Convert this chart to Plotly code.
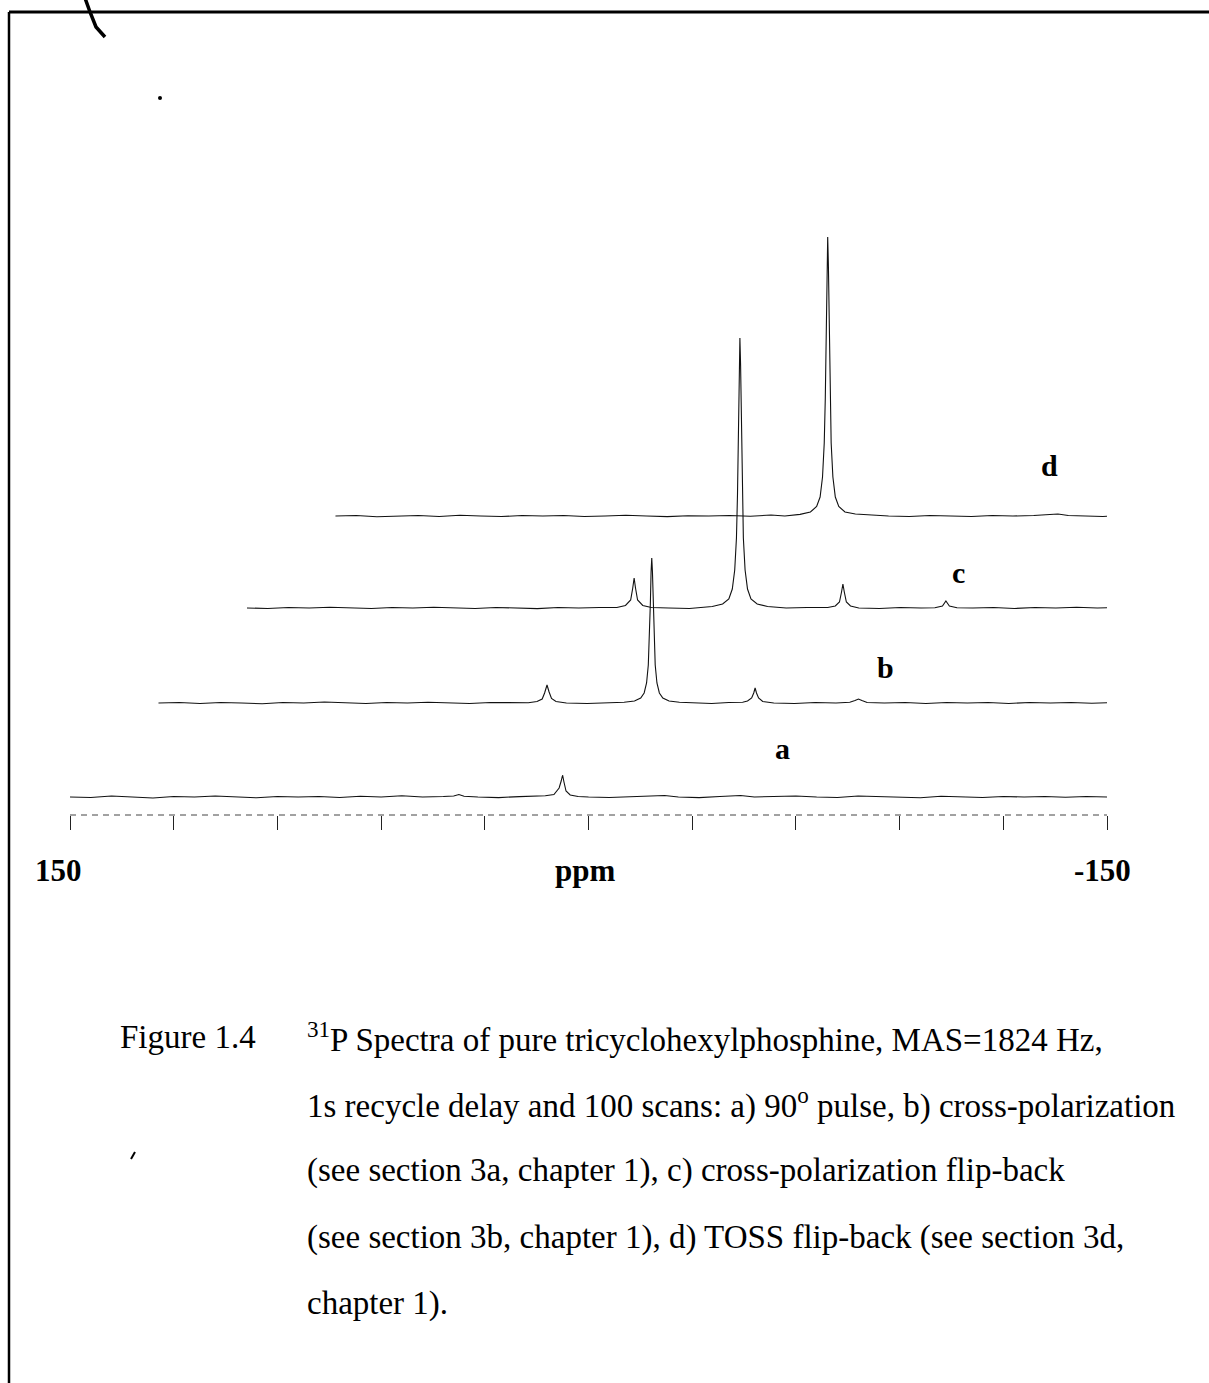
import plotly.graph_objects as go

# ---------------- data ----------------
# each spectrum: (own chemical shift in ppm, intensity above its baseline)
spectrum_a = [(150, 0), (144, -0.5), (138, 1), (132, 0), (126, -1), (120, 0.5), (114, 0), (108, 1),
              (102, 0), (96, -0.8), (90, 0.5), (84, 0), (78, 0.5), (72, -0.5), (66, 0.8), (60, 0),
              (54, 1.2), (48, 0), (42, 0.5), (39, 1), (37.5, 2.5), (36, 0.8), (32, 0), (26, -0.6),
              (20, 0.4), (14, 0.5), (12.5, 1.2), (10, 2.5), (8.5, 9), (7.9, 16), (7.5, 22), (7.1, 15),
              (6.5, 6), (5.3, 2), (3, 0.5), (0, 0), (-6, -0.5), (-12, 0.3), (-18, 0.8), (-22, 1.5),
              (-26, 0), (-32, -0.6), (-38, 0.5), (-44, 1.5), (-48, 0), (-54, 0.5), (-60, 1), (-66, 0),
              (-72, -0.5), (-78, 1), (-84, 0.5), (-90, 0), (-96, -0.8), (-102, 0.8), (-108, 0),
              (-114, -0.5), (-120, 0.5), (-126, 0), (-132, 0.5), (-138, -0.3), (-144, 0.5), (-150, 0)]

spectrum_b = [(150, 0), (144, 0.5), (138, -0.5), (132, 0.5), (126, 0), (120, -0.8), (114, 0.5), (108, 0),
              (102, 1), (96, 0), (90, -0.5), (84, 0.5), (78, 0), (72, 0.8), (66, 0), (60, -0.5), (54, 0.5),
              (48, 0), (43, 0.3), (40.5, 1.5), (39, 4), (38.3, 10), (37.6, 18), (37.0, 11), (36.3, 4.5),
              (35, 1.5), (32, 0), (26, -0.5), (20, 0.3), (15.3, 0.8), (12.3, 2), (10.5, 5), (9.5, 10),
              (8.8, 20), (8.3, 38), (8.0, 61), (7.7, 100), (7.5, 131), (7.3, 145), (7.1, 131), (6.9, 100),
              (6.6, 61), (6.3, 38), (5.8, 20), (5.1, 10), (4.1, 5), (2.3, 2), (-0.7, 0.8), (-5, 0),
              (-10, -0.5), (-15, 0.5), (-19, 0.8), (-20.4, 2), (-21.6, 5), (-22.2, 10), (-22.6, 15),
              (-23, 10), (-23.6, 5), (-24.8, 1.5), (-28, 0), (-34, -0.5), (-40, 0.5), (-46, 0), (-50, 0.8),
              (-51.5, 2.5), (-52.5, 4), (-53.5, 2.5), (-55, 0.5), (-60, 0), (-66, 0.5), (-72, -0.5),
              (-78, 0.5), (-84, 0), (-90, 0.5), (-96, -0.5), (-102, 0.5), (-108, 0), (-114, 0.5),
              (-120, -0.3), (-126, 0.5), (-132, 0), (-150, 0)]

spectrum_c = [(150, 0), (144, -0.5), (138, 0.5), (132, 0), (126, 0.8), (120, 0), (114, -0.5), (108, 0.5),
              (102, 0), (96, 0.8), (90, 0), (84, -0.5), (78, 0.5), (72, 0), (66, -0.6), (60, 0.5), (54, 0),
              (48, 0.5), (43, 0.5), (40.5, 2.5), (39, 8), (38.4, 20), (38, 30), (37.6, 20), (37, 8),
              (35.5, 2.5), (33, 0.5), (28, 0), (22, -0.5), (15.4, 1.5), (12.4, 4), (10.6, 9), (9.6, 19),
              (8.9, 38), (8.4, 70), (8.1, 113), (7.8, 186), (7.6, 243), (7.4, 270), (7.2, 243), (7.0, 186),
              (6.7, 113), (6.4, 70), (5.9, 38), (5.2, 19), (4.2, 9), (2.4, 4), (-0.6, 1.5), (-6, 0),
              (-12, 0.5), (-18, 0.5), (-20.2, 2), (-21.4, 6), (-22.0, 16), (-22.4, 24), (-22.8, 16),
              (-23.4, 6), (-24.6, 2), (-27, 0), (-33, -0.5), (-39, 0.5), (-45, 0), (-49, 0.3),
              (-51.2, 2), (-51.8, 5), (-52.2, 7), (-52.6, 5), (-53.2, 2), (-55.4, 0.3), (-60, 0),
              (-66, 0.5), (-72, -0.5), (-78, 0.5), (-84, 0), (-90, 0.8), (-96, 0), (-102, 0.5), (-150, 0)]

spectrum_d = [(150, 0), (144, 0.5), (138, -0.8), (132, 0), (126, 0.5), (120, -0.5), (114, 0.8), (108, 0),
              (102, -0.5), (96, 0.5), (90, 0), (84, 0.5), (78, -0.5), (72, 0), (66, 0.8), (60, 0),
              (54, -0.6), (48, 0.3), (42, 0), (36, 0.5), (30, -0.3), (24, 1), (20, 0), (15.6, 1.6),
              (12.6, 4), (10.8, 9.5), (9.8, 19), (9.1, 39), (8.6, 73), (8.3, 117), (8.0, 193), (7.8, 251),
              (7.6, 279), (7.4, 251), (7.2, 193), (6.9, 117), (6.6, 73), (6.1, 39), (5.4, 19), (4.4, 9.5),
              (2.6, 4), (-0.4, 2), (-4, 1), (-10, 0), (-16, -0.5), (-22, 0.5), (-28, 0), (-34, -0.5),
              (-40, 0.5), (-46, 0), (-52, 0.5), (-56, 1.5), (-59, 2), (-62, 0.5), (-66, 0), (-72, -0.5),
              (-78, 0.5), (-150, 0)]

spectra = [spectrum_a, spectrum_b, spectrum_c, spectrum_d]
spectrum_labels = ["a", "b", "c", "d"]

tick_ppm = [150, 120, 90, 60, 30, 0, -30, -60, -90, -120, -150]
axis_end_labels = ["150", "-150"]
axis_title = "ppm"

caption_tag = "Figure 1.4"
caption_lines = [
    "<sup>31</sup>P Spectra of pure tricyclohexylphosphine, MAS=1824 Hz,",
    "1s recycle delay and 100 scans: a) 90<sup>o</sup> pulse, b) cross-polarization",
    "(see section 3a, chapter 1), c) cross-polarization flip-back",
    "(see section 3b, chapter 1), d) TOSS flip-back (see section 3d,",
    "chapter 1).",
]

# ---------------- layout constants (stack-plot geometry) ----------------
W, H = 1209, 1383
PL, PR, PT, PB = 70, 1107, 200, 815       # plot area in pixels
stack_dx = [0, 25.6, 51.2, 76.8]          # horizontal stack shift (ppm)
stack_dy = [18, 112, 207, 299]            # vertical stack shift (intensity units)
label_pos = [(-56, 67), (-86, 148), (-107, 243), (-133.5, 350)]

SERIF = "Liberation Serif, Times New Roman, serif"


def px_x(px):
    return (px - PL) / (PR - PL)


def px_y(py):
    return (PB - py) / (PB - PT)


fig = go.Figure()

for spec, dx, dy in zip(spectra, stack_dx, stack_dy):
    xs = [p - dx for p, _ in spec]
    ys = [v + dy for _, v in spec]
    fig.add_trace(go.Scatter(x=xs, y=ys, mode="lines",
                             line=dict(color="#111111", width=1.1),
                             hoverinfo="skip", showlegend=False))

annotations = []
for lab, (lx, ly) in zip(spectrum_labels, label_pos):
    annotations.append(dict(x=lx, y=ly, xref="x", yref="y", text=f"<b>{lab}</b>",
                            xanchor="center", yanchor="middle",
                            showarrow=False, font=dict(family=SERIF, size=30, color="black")))

# axis end labels and title
for txt, cx in [(axis_end_labels[0], 58), (axis_title, 585), (axis_end_labels[1], 1102)]:
    annotations.append(dict(x=px_x(cx), y=px_y(870), xref="paper", yref="paper",
                            xanchor="center", yanchor="middle",
                            text=f"<b>{txt}</b>", showarrow=False,
                            font=dict(family=SERIF, size=31, color="black")))

# caption
line_y = [1037, 1103, 1170, 1237, 1303]
annotations.append(dict(x=px_x(118), y=px_y(line_y[0]), xref="paper", yref="paper",
                        xanchor="left", yanchor="middle", text=caption_tag, showarrow=False,
                        font=dict(family=SERIF, size=33, color="black")))
for txt, ly in zip(caption_lines, line_y):
    annotations.append(dict(x=px_x(305), y=px_y(ly), xref="paper", yref="paper",
                            xanchor="left", yanchor="middle", text=txt, showarrow=False,
                            font=dict(family=SERIF, size=33, color="black")))

shapes = [
    # dashed baseline axis
    dict(type="line", xref="x", yref="paper", x0=150, x1=-150, y0=0, y1=0,
         line=dict(color="#444444", width=1, dash="6px,5px")),
    # page frame
    dict(type="line", xref="paper", yref="paper", x0=px_x(9), x1=px_x(1215), y0=px_y(12), y1=px_y(12),
         line=dict(color="black", width=3)),
    dict(type="line", xref="paper", yref="paper", x0=px_x(9), x1=px_x(9), y0=px_y(12), y1=px_y(1390),
         line=dict(color="black", width=2.5)),
    # pen stroke at top-left
    dict(type="path", xref="paper", yref="paper",
         path=f"M {px_x(85)},{px_y(-2)} L {px_x(90)},{px_y(12)} L {px_x(96)},{px_y(27)} L {px_x(105)},{px_y(37)}",
         line=dict(color="black", width=3.5)),
    # specks from the scan
    dict(type="circle", xref="paper", yref="paper", x0=px_x(158), x1=px_x(162), y0=px_y(96), y1=px_y(100),
         fillcolor="black", line=dict(color="black", width=0)),
    dict(type="line", xref="paper", yref="paper", x0=px_x(131), x1=px_x(135), y0=px_y(1159), y1=px_y(1152),
         line=dict(color="black", width=2)),
]

fig.update_layout(
    width=W, height=H,
    margin=dict(l=PL, r=W - PR, t=PT, b=H - PB, pad=0),
    paper_bgcolor="white", plot_bgcolor="white",
    xaxis=dict(range=[150, -150], showgrid=False, zeroline=False, showline=False,
               ticks="outside", ticklen=14, tickwidth=1, tickcolor="#222222",
               tickvals=tick_ppm, showticklabels=False, fixedrange=True),
    yaxis=dict(range=[0, PB - PT], visible=False, fixedrange=True),
    annotations=annotations,
    shapes=shapes,
    showlegend=False,
)

fig.write_html("out.html")
